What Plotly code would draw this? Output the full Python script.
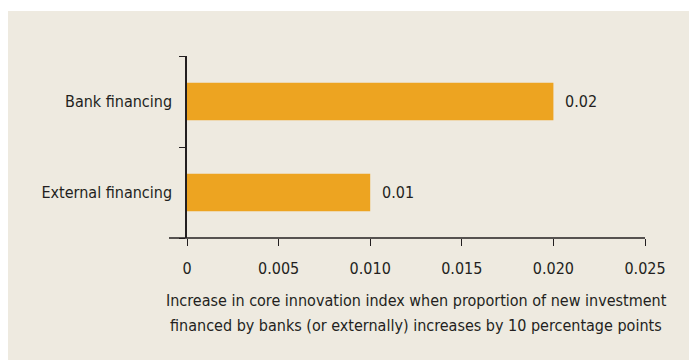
import plotly.graph_objects as go

# Effect estimates per financing source
categories = ["External financing", "Bank financing"]
effects = [0.01, 0.02]
effect_labels = ["0.01", "0.02"]

x_ticks = [0, 0.005, 0.010, 0.015, 0.020, 0.025]
x_tick_labels = ["0", "0.005", "0.010", "0.015", "0.020", "0.025"]

x_title_lines = [
    "Increase in core innovation index when proportion of new investment",
    "financed by banks (or externally) increases by 10 percentage points",
]

FONT = "Liberation Sans Narrow, DejaVu Sans Condensed, Arial Narrow, sans-serif"
BEIGE = "#EEEAE0"
BAR = "#EDA421"
INK = "#231F20"
FS = 16

fig = go.Figure(
    go.Bar(
        x=effects,
        y=categories,
        orientation="h",
        width=0.41,
        marker=dict(color=BAR, line=dict(width=0)),
        hoverinfo="skip",
    )
)

W, H = 689, 361
L, R, T, B = 187, 44, 56, 123
pw, ph = W - L - R, H - T - B

def px_x(p):
    return (p - L) / pw

def px_y(p):
    return (H - B - p) / ph

annotations = [
    dict(x=v, y=c, xref="x", yref="y", text=t, showarrow=False,
         xanchor="left", yanchor="middle", xshift=10,
         font=dict(family=FONT, size=FS, color=INK))
    for c, v, t in zip(categories, effects, effect_labels)
]
# two-line axis title, centred under the value axis
for i, line in enumerate(x_title_lines):
    annotations.append(dict(
        x=0.5, y=px_y(300 + 25 * i), xref="paper", yref="paper",
        text=line, showarrow=False, xanchor="center", yanchor="middle",
        font=dict(family=FONT, size=FS, color=INK)))

fig.update_layout(
    width=W,
    height=H,
    margin=dict(l=L, r=R, t=T, b=B, pad=0),
    paper_bgcolor="white",
    plot_bgcolor="rgba(0,0,0,0)",
    showlegend=False,
    font=dict(family=FONT, color=INK),
    annotations=annotations,
    xaxis=dict(
        range=[0, 0.025],
        tickvals=x_ticks,
        ticktext=x_tick_labels,
        ticks="outside",
        ticklen=7,
        tickwidth=1.3,
        tickcolor=INK,
        showline=False,
        showgrid=False,
        zeroline=False,
        tickfont=dict(family=FONT, size=FS, color=INK),
        ticklabelstandoff=9,
        fixedrange=True,
    ),
    yaxis=dict(
        type="category",
        categoryorder="array",
        categoryarray=categories,
        range=[-0.5, 1.5],
        tickson="boundaries",
        ticks="outside",
        ticklen=6,
        tickwidth=1.3,
        tickcolor=INK,
        showline=True,
        linecolor=INK,
        linewidth=1.5,
        showgrid=False,
        zeroline=False,
        tickfont=dict(family=FONT, size=FS, color=INK),
        ticklabelstandoff=10,
        fixedrange=True,
    ),
    shapes=[
        # beige panel behind the chart
        dict(type="rect", xref="paper", yref="paper",
             x0=px_x(8), x1=px_x(689), y0=px_y(360), y1=px_y(11),
             fillcolor=BEIGE, line=dict(width=0), layer="below"),
        # baseline extending slightly left of the value axis origin
        dict(type="line", xref="paper", yref="paper",
             x0=px_x(169), x1=1, y0=0, y1=0,
             line=dict(color=INK, width=1.5), layer="above"),
    ],
)

fig.write_html("out.html")
